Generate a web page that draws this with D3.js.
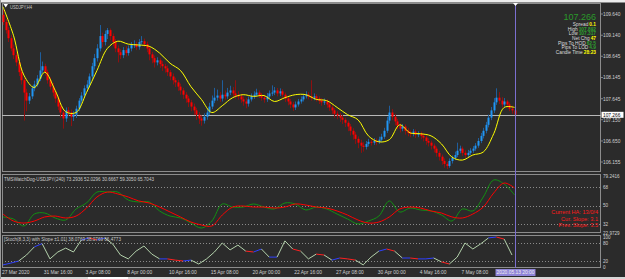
<!DOCTYPE html>
<meta charset="utf-8">
<script src="https://d3js.org/d3.v7.min.js"></script>
<style>
  body { margin: 0; background: #2b2b2b; }
  svg { display: block; font-family: 'Liberation Sans', sans-serif; }
</style>
<div id="chart"></div>
<script>
// USDJPY H4 bars (bar 0 = 27 Mar 2020 00:00)
var opens = [109.62,109.45,109.26,109.07,108.83,108.67,108.50,108.27,108.08,107.79,
107.60,107.70,107.89,107.98,108.12,108.31,108.41,108.27,108.08,107.93,
107.79,107.65,107.46,107.32,107.18,107.37,107.32,107.22,107.27,107.41,
107.60,107.72,107.89,107.98,108.17,108.41,108.60,108.83,109.12,108.98,
109.17,109.26,109.12,108.98,108.83,108.74,108.67,108.79,108.72,108.83,
108.91,108.93,108.86,108.98,109.00,108.93,108.83,108.69,108.60,108.50,
108.55,108.46,108.41,108.36,108.27,108.17,108.08,108.03,107.93,107.84,
107.74,107.65,107.56,107.46,107.37,107.27,107.18,107.13,107.22,107.32,
107.46,107.60,107.67,107.72,107.65,107.74,107.70,107.79,107.84,107.77,
107.72,107.70,107.63,107.58,107.53,107.63,107.70,107.74,107.79,107.72,
107.67,107.63,107.70,107.77,107.79,107.84,107.77,107.82,107.74,107.65,
107.58,107.51,107.44,107.51,107.58,107.63,107.70,107.74,107.70,107.67,
107.70,107.65,107.60,107.56,107.58,107.51,107.44,107.37,107.29,107.25,
107.20,107.15,107.08,106.99,106.89,106.80,106.70,106.61,106.54,106.51,
106.58,106.63,106.61,106.65,106.63,106.68,106.75,106.89,107.13,107.32,
107.22,107.11,107.01,106.94,106.99,106.89,106.84,106.82,106.87,106.80,
106.82,106.77,106.73,106.65,106.61,106.54,106.47,106.37,106.28,106.18,
106.11,106.06,106.18,106.25,106.32,106.42,106.47,106.37,106.32,106.37,
106.42,106.47,106.54,106.65,106.77,106.89,107.03,107.20,107.37,107.56,
107.67,107.60,107.51,107.58,107.51,107.41,107.37];

var closes = [109.45,109.26,109.07,108.83,108.67,108.50,108.27,108.08,107.79,107.60,
107.70,107.89,107.98,108.12,108.31,108.41,108.27,108.08,107.93,107.79,
107.65,107.46,107.32,107.18,107.37,107.32,107.22,107.27,107.41,107.60,
107.72,107.89,107.98,108.17,108.41,108.60,108.83,109.12,108.98,109.17,
109.26,109.12,108.98,108.83,108.74,108.67,108.79,108.72,108.83,108.91,
108.93,108.86,108.98,109.00,108.93,108.83,108.69,108.60,108.50,108.55,
108.46,108.41,108.36,108.27,108.17,108.08,108.03,107.93,107.84,107.74,
107.65,107.56,107.46,107.37,107.27,107.18,107.13,107.22,107.32,107.46,
107.60,107.67,107.72,107.65,107.74,107.70,107.79,107.84,107.77,107.72,
107.70,107.63,107.58,107.53,107.63,107.70,107.74,107.79,107.72,107.67,
107.63,107.70,107.77,107.79,107.84,107.77,107.82,107.74,107.65,107.58,
107.51,107.44,107.51,107.58,107.63,107.70,107.74,107.70,107.67,107.70,
107.65,107.60,107.56,107.58,107.51,107.44,107.37,107.29,107.25,107.20,
107.15,107.08,106.99,106.89,106.80,106.70,106.61,106.54,106.51,106.58,
106.63,106.61,106.65,106.63,106.68,106.75,106.89,107.13,107.32,107.22,
107.11,107.01,106.94,106.99,106.89,106.84,106.82,106.87,106.80,106.82,
106.77,106.73,106.65,106.61,106.54,106.47,106.37,106.28,106.18,106.11,
106.06,106.18,106.25,106.32,106.42,106.47,106.37,106.32,106.37,106.42,
106.47,106.54,106.65,106.77,106.89,107.03,107.20,107.37,107.56,107.67,
107.60,107.51,107.58,107.51,107.41,107.37,107.27];

var highs = [109.75,109.52,109.33,109.15,108.92,108.74,108.56,108.36,108.14,107.88,
107.78,107.95,108.07,108.20,108.74,108.52,108.47,108.33,108.15,108.02,
107.86,107.71,107.53,107.40,107.44,107.45,107.39,107.35,107.48,107.66,
107.80,107.96,108.08,108.24,108.49,108.70,108.93,109.38,109.20,109.25,
109.31,109.30,109.18,109.05,108.90,108.81,108.86,108.88,108.90,108.98,
109.02,108.99,109.05,109.12,109.06,108.99,108.88,108.75,108.66,108.62,
108.60,108.53,108.47,108.43,108.32,108.24,108.14,108.09,108.00,107.90,
107.80,107.71,107.62,107.53,107.43,107.33,107.25,107.30,107.40,107.55,
107.72,107.90,107.86,107.80,108.08,107.84,107.90,107.95,107.92,108.08,
107.82,107.76,107.70,107.66,107.70,107.77,107.82,107.88,107.84,107.78,
107.74,107.78,107.84,107.96,107.92,107.90,107.89,107.87,107.79,107.70,
107.64,107.57,107.58,107.64,107.70,107.76,107.82,107.80,108.08,107.77,
107.75,107.70,107.66,107.65,107.63,107.56,107.49,107.42,107.35,107.31,
107.26,107.20,107.13,107.05,106.95,106.86,106.76,106.68,106.62,106.65,
106.70,106.69,106.72,106.71,106.75,106.82,106.96,107.22,107.48,107.40,
107.28,107.17,107.06,107.05,107.04,106.95,106.90,106.93,106.92,106.88,
106.87,106.83,106.78,106.71,106.66,106.59,106.52,106.42,106.33,106.24,
106.16,106.24,106.31,106.40,106.61,106.54,106.52,106.43,106.44,106.48,
106.53,106.60,106.72,106.84,106.96,107.10,107.27,107.45,107.66,107.89,
107.80,107.68,107.66,107.62,107.56,107.48,107.42];

var lows = [109.38,109.18,108.98,108.76,108.58,108.41,108.18,107.98,107.13,107.35,
107.52,107.64,107.82,107.93,108.06,108.25,108.19,108.00,107.86,107.70,
107.55,107.38,107.20,106.94,107.10,107.24,107.00,107.12,107.19,107.35,
107.55,107.66,107.82,107.91,108.10,108.33,108.52,108.76,108.86,108.90,
109.05,109.02,108.88,108.74,108.50,108.58,108.60,108.64,108.66,108.76,
108.84,108.79,108.80,108.92,108.86,108.74,108.55,108.48,108.38,108.43,
108.37,108.30,108.26,108.18,108.08,107.98,107.92,107.83,107.74,107.64,
107.55,107.45,107.35,107.26,107.15,107.05,107.01,107.06,107.15,107.26,
107.40,107.54,107.60,107.57,107.58,107.62,107.64,107.73,107.70,107.64,
107.62,107.55,107.48,107.42,107.46,107.58,107.64,107.69,107.66,107.60,
107.55,107.57,107.64,107.71,107.73,107.70,107.71,107.67,107.57,107.49,
107.42,107.36,107.38,107.46,107.53,107.58,107.65,107.63,107.60,107.61,
107.58,107.52,107.48,107.50,107.43,107.36,107.28,107.20,107.16,107.10,
107.05,106.98,106.88,106.78,106.68,106.58,106.48,106.37,106.40,106.45,
106.52,106.54,106.56,106.55,106.58,106.62,106.70,106.84,107.06,107.14,
107.02,106.92,106.85,106.88,106.80,106.76,106.74,106.76,106.72,106.74,
106.69,106.64,106.56,106.52,106.45,106.38,106.28,106.19,106.09,106.02,
105.99,106.02,106.12,106.20,106.27,106.36,106.30,106.25,106.27,106.32,
106.37,106.42,106.49,106.60,106.71,106.83,106.97,107.14,107.31,107.50,
107.52,107.44,107.46,107.44,107.35,107.29,107.21];

// yellow moving average, one reading every 4 bars
var maStep = 4;
var maValues = [109.81,109.14,108.20,107.91,108.27,107.84,107.34,107.32,107.79,108.31,
108.83,109.00,108.93,108.91,108.88,108.72,108.48,108.31,107.93,107.63,
107.32,107.48,107.67,107.74,107.70,107.72,107.58,107.67,107.74,107.74,
107.63,107.60,107.44,107.27,107.15,106.77,106.63,106.68,107.03,106.84,
106.82,106.77,106.58,106.27,106.20,106.32,106.39,106.82,107.44,107.44];

// TMSWatchDog pane, one reading every 4 bars
var wdStep = 4;
var wdRed = [41.7,34.8,32.8,34.8,38.8,39.7,37.8,39.7,47.6,58.5,
63.4,61.5,58.5,54.6,52.6,48.6,43.7,38.8,33.8,30.9,
29.9,40.7,48.6,49.6,48.6,48.6,47.6,48.6,51.6,50.6,
48.6,47.6,44.7,40.7,35.8,32.8,33.8,38.8,46.7,48.6,
47.6,44.7,42.7,38.8,37.8,41.7,48.6,62.5,72.3,67.4];
var wdGreen = [38.8,36.8,29.9,41.7,42.7,37.8,35.8,46.7,52.6,63.4,
63.4,63.4,55.5,53.6,53.6,44.7,39.7,37.8,32.8,27.9,
34.8,51.6,48.6,48.6,51.6,48.6,46.7,52.6,51.6,45.7,
48.6,46.7,41.7,36.8,31.9,34.8,39.7,54.6,43.7,47.6,
45.7,44.7,40.7,34.8,46.7,44.7,58.5,75.3,71.3,60.5];

// Stochastic pane, one reading every 3 bars
var stStep = 3;
var stValues = [7,13,20,40,67,78,27,50,63,50,
90,97,90,97,77,40,27,53,70,43,
27,27,23,20,23,10,27,50,80,57,
73,53,50,60,33,33,87,60,53,27,
43,40,23,30,27,23,7,33,53,60,
53,30,30,27,27,30,17,10,33,80,
60,77,97,100,93,40];

var timeBars = [0,16,32,48,64,80,96,112,128,144,160,176];
var timeLabels = ["27 Mar 2020","31 Mar 16:00","3 Apr 08:00","8 Apr 00:00","10 Apr 16:00","15 Apr 08:00",
  "20 Apr 00:00","22 Apr 16:00","27 Apr 08:00","30 Apr 00:00","4 May 16:00","7 May 08:00"];
var priceTicks = [109.640,109.140,108.645,108.145,107.645,107.150,106.650,106.155];
var wdTicks = [79.2416,68,50,32,22.9729];
var wdTickLabels = ["79.2416","68","50","32","22.9729"];
var wdLevels = [68,50,32];
var stTicks = [100,80,20,0];
var stLevels = [80,20];
var lastPrice = 107.266;
var infoRows = [["Spread","0.1","#ffff00"],["High","107.892","#2ea02e"],["Low","107.317","#2ea02e"],
  ["Net Chg","47","#ffff00"],["Pips To HOD","62.5","#2ea02e"],["Pips To LOD","4.9","#2ea02e"],
  ["Candle Time","28:23","#ffff00"]];
var haLines = ["Current HA: 13/0/4","Cur. Slope: 3.1","Prev. Slope: 3.5"];

var W = 625, H = 279, plotL = 2, plotR = 601;
var panes = {main: {top: 3, bottom: 172}, wd: {top: 174, bottom: 233}, st: {top: 235, bottom: 268}};

var svg = d3.select("#chart").append("svg").attr("width", W).attr("height", H);
svg.append("rect").attr("width", W).attr("height", H).attr("fill", "#2b2b2b");
svg.append("rect").attr("width", W).attr("height", 2.5).attr("fill", "#ececec");
svg.append("rect").attr("y", 277).attr("width", W).attr("height", 2).attr("fill", "#d6d6d6");
svg.append("rect").attr("x", 88).attr("y", 277).attr("width", 40).attr("height", 2).attr("fill", "#ffffff");
svg.append("rect").attr("x", 0).attr("y", 0).attr("width", 1).attr("height", H).attr("fill", "#9a9a9a");

// clip paths and frames
Object.keys(panes).forEach(function(k) {
  var p = panes[k];
  svg.append("clipPath").attr("id", "clip-" + k).append("rect")
    .attr("x", plotL).attr("y", p.top).attr("width", plotR - plotL).attr("height", p.bottom - p.top);
  svg.append("rect").attr("x", plotL + 0.5).attr("y", p.top + 0.5)
    .attr("width", plotR - plotL - 1).attr("height", p.bottom - p.top - 1)
    .attr("fill", "none").attr("stroke", "#8c8c8c").attr("stroke-width", 1);
});

var x = d3.scaleLinear().domain([0, 196]).range([3, 514.6]);
var y = d3.scaleLinear().domain([106.155, 109.640]).range([162, 14]);
var y2 = d3.scaleLinear().domain([22.9729, 79.2416]).range([233, 176]);
var y3 = d3.scaleLinear().domain([0, 100]).range([267, 237]);

// ---- main pane ----
var gMain = svg.append("g").attr("clip-path", "url(#clip-main)");

gMain.append("line").attr("x1", plotL).attr("x2", plotR)
  .attr("y1", Math.round(y(lastPrice)) + 0.5).attr("y2", Math.round(y(lastPrice)) + 0.5)
  .attr("stroke", "#b8b8b8").attr("stroke-width", 1);

var bars = d3.range(closes.length);
gMain.selectAll("line.wick").data(bars).enter().append("line")
  .attr("class", "wick")
  .attr("x1", function(i) { return Math.round(x(i)) + 0.5; })
  .attr("x2", function(i) { return Math.round(x(i)) + 0.5; })
  .attr("y1", function(i) { return y(highs[i]); })
  .attr("y2", function(i) { return y(lows[i]); })
  .attr("stroke", function(i) { return closes[i] >= opens[i] ? "#1f5e9c" : "#8e1010"; })
  .attr("stroke-width", 1);

gMain.selectAll("rect.body").data(bars).enter().append("rect")
  .attr("class", "body")
  .attr("x", function(i) { return Math.round(x(i)) - 0.5; })
  .attr("width", 2)
  .attr("y", function(i) { return y(Math.max(opens[i], closes[i])); })
  .attr("height", function(i) { return Math.max(1, Math.abs(y(opens[i]) - y(closes[i]))); })
  .attr("fill", function(i) { return closes[i] >= opens[i] ? "#2196f3" : "#ff0000"; });

gMain.append("path").datum(maValues)
  .attr("d", d3.line().x(function(d, k) { return x(k * maStep); }).y(function(d) { return y(d); })
    .curve(d3.curveCatmullRom))
  .attr("fill", "none").attr("stroke", "#ffff00").attr("stroke-width", 1);

// title
svg.append("path").attr("d", "M3.5,4 L8,4 L5.75,7.5 Z").attr("fill", "#ffffff");
svg.append("text").attr("x", 10).attr("y", 8.5).attr("font-size", 5.2).attr("fill", "#c8c8c8")
  .attr("textLength", 22).attr("lengthAdjust", "spacingAndGlyphs").text("USDJPY,H4");

// info block
svg.append("text").attr("x", 596).attr("y", 19.5).attr("text-anchor", "end")
  .attr("font-size", 9).attr("fill", "#2a9a2a").text(lastPrice.toFixed(3));
infoRows.forEach(function(r, k) {
  var by = 25.8 + k * 4.7;
  var val = svg.append("text").attr("x", 596).attr("y", by).attr("text-anchor", "end")
    .attr("font-size", 4.8).attr("font-weight", "bold").attr("fill", r[2]).text(r[1]);
  var vw = val.node().getComputedTextLength();
  svg.append("text").attr("x", 596 - vw - 1).attr("y", by).attr("text-anchor", "end")
    .attr("font-size", 4.8).attr("fill", "#dcdcdc").text(r[0]);
});

// price axis
priceTicks.forEach(function(p) {
  svg.append("line").attr("x1", plotR).attr("x2", plotR + 2).attr("y1", y(p)).attr("y2", y(p))
    .attr("stroke", "#bdbdbd").attr("stroke-width", 0.6);
  svg.append("text").attr("x", 603).attr("y", y(p) + 1.8).attr("font-size", 4.8)
    .attr("fill", "#d0d0d0").text(p.toFixed(3));
});
svg.append("rect").attr("x", 601.5).attr("y", y(lastPrice) - 3).attr("width", 22).attr("height", 6)
  .attr("fill", "#ffffff");
svg.append("text").attr("x", 603).attr("y", y(lastPrice) + 1.8).attr("font-size", 4.8)
  .attr("fill", "#000000").text(lastPrice.toFixed(3));

// ---- watchdog pane ----
var gWd = svg.append("g").attr("clip-path", "url(#clip-wd)");
wdLevels.forEach(function(v) {
  gWd.append("line").attr("x1", plotL).attr("x2", plotR).attr("y1", Math.round(y2(v)) + 0.5)
    .attr("y2", Math.round(y2(v)) + 0.5).attr("stroke", "#8a8a8a").attr("stroke-dasharray", "1,2");
});
var wdLine = d3.line().x(function(d, k) { return x(k * wdStep); }).y(function(d) { return y2(d); })
  .curve(d3.curveCatmullRom);
gWd.append("path").datum(wdGreen).attr("d", wdLine).attr("fill", "none")
  .attr("stroke", "#129012").attr("stroke-width", 1);
gWd.append("path").datum(wdRed).attr("d", wdLine).attr("fill", "none")
  .attr("stroke", "#ff0000").attr("stroke-width", 1);
svg.append("text").attr("x", 4).attr("y", 180.5).attr("font-size", 4.8).attr("fill", "#c8c8c8")
  .attr("textLength", 150).attr("lengthAdjust", "spacingAndGlyphs")
  .text("TMSWatchDog-USDJPY(240) 73.2936 52.0296 30.6667 59.3050 65.7043");
haLines.forEach(function(t, k) {
  svg.append("text").attr("x", 598).attr("y", 214 + k * 6.5).attr("text-anchor", "end")
    .attr("font-size", 5.6).attr("fill", "#ff1a1a").text(t);
});
wdTicks.forEach(function(v, k) {
  svg.append("text").attr("x", 603).attr("y", y2(v) + 1.8).attr("font-size", 4.6)
    .attr("fill", "#d0d0d0").text(wdTickLabels[k]);
});

// ---- stochastic pane ----
var gSt = svg.append("g").attr("clip-path", "url(#clip-st)");
stLevels.forEach(function(v) {
  gSt.append("line").attr("x1", plotL).attr("x2", plotR).attr("y1", Math.round(y3(v)) + 0.5)
    .attr("y2", Math.round(y3(v)) + 0.5).attr("stroke", "#8a8a8a").attr("stroke-dasharray", "1,2");
});
d3.range(stValues.length - 1).forEach(function(k) {
  var a = stValues[k], b = stValues[k + 1];
  var col = Math.abs(b - a) < 12 ? (b < a ? "#ff2020" : "#3040ff") : "#b4d2ac";
  gSt.append("line").attr("x1", x(k * stStep)).attr("y1", y3(a))
    .attr("x2", x((k + 1) * stStep)).attr("y2", y3(b))
    .attr("stroke", col).attr("stroke-width", 1);
});
svg.append("text").attr("x", 4).attr("y", 240.5).attr("font-size", 4.8).attr("fill", "#c8c8c8")
  .attr("textLength", 117).attr("lengthAdjust", "spacingAndGlyphs")
  .text("[Stoch(8,3,3) with Slope \u00b11.01] 38.0769 38.0769 66.4773");
stTicks.forEach(function(v) {
  svg.append("text").attr("x", 603).attr("y", y3(v) + 1.8).attr("font-size", 4.6)
    .attr("fill", "#d0d0d0").text(v);
});

// ---- cursor line and time axis ----
var curX = Math.round(x(196)) + 0.5;
svg.append("line").attr("x1", curX).attr("x2", curX).attr("y1", 3).attr("y2", 268)
  .attr("stroke", "#7b6fd0").attr("stroke-width", 1);
svg.append("path").attr("d", "M" + (curX - 2.5) + ",3 L" + (curX + 2.5) + ",3 L" + curX + ",6 Z")
  .attr("fill", "#ffffff");

timeBars.forEach(function(b, k) {
  svg.append("text").attr("x", x(b) - 1).attr("y", 274).attr("font-size", 4.9)
    .attr("fill", "#d0d0d0").text(timeLabels[k]);
});
svg.append("rect").attr("x", curX - 20).attr("y", 269).attr("width", 40).attr("height", 7)
  .attr("fill", "#8f84d8");
svg.append("text").attr("x", curX).attr("y", 274.3).attr("text-anchor", "middle").attr("font-size", 4.9)
  .attr("fill", "#f0f0f0").text("2020.05.13 20:00");
</script>
